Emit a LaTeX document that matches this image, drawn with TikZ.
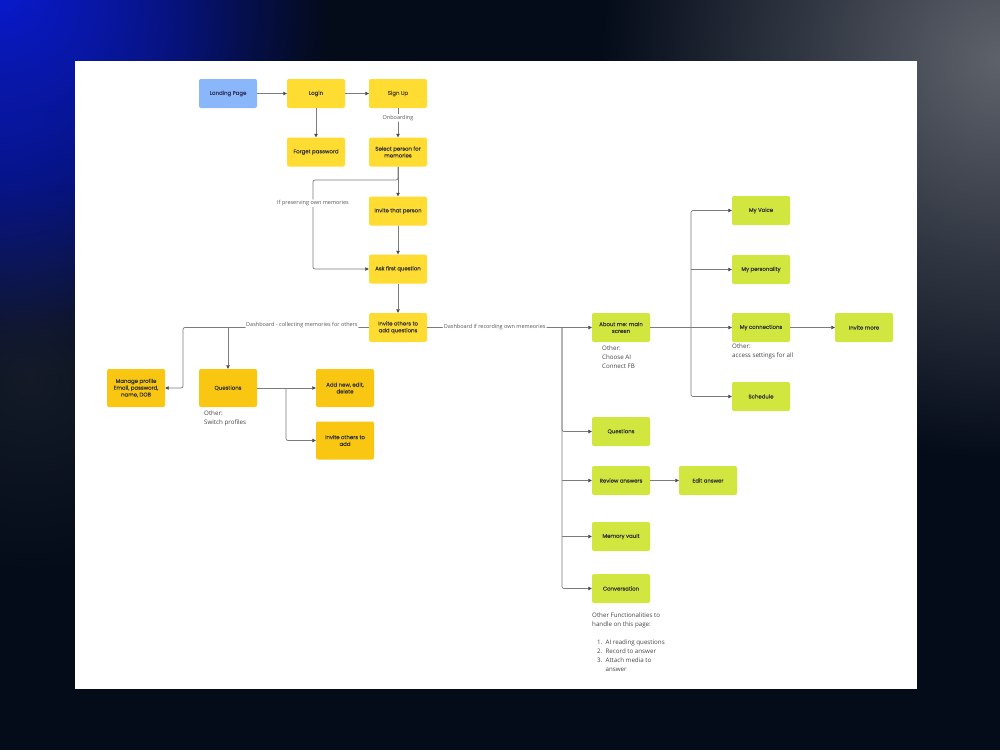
\documentclass[tikz,border=0pt]{standalone}
\usepackage{fontspec}
\setmainfont{Open Sans}
\newfontfamily\boxfam{Poppins}[FakeBold=0.12]
\usetikzlibrary{arrows.meta,fadings}
\definecolor{bgcol}{HTML}{040B19}
\definecolor{blueglow}{HTML}{0A1CE0}
\definecolor{greyglow}{HTML}{5E636B}
\definecolor{bluebox}{HTML}{8AB6FA}
\definecolor{yelcol}{HTML}{FFDC32}
\definecolor{orgcol}{HTML}{F9C712}
\definecolor{grncol}{HTML}{D1E63F}
\definecolor{txtcol}{HTML}{333333}
\definecolor{linecol}{HTML}{7C7C7C}
\definecolor{tipcol}{HTML}{4A4A4A}
\definecolor{notecol}{HTML}{454545}
\tikzfading[name=glowfade, inner color=transparent!0, outer color=transparent!100]
\begin{document}
\begin{tikzpicture}[x=1pt,y=-1pt,
  box/.style={rectangle, rounded corners=2pt, minimum width=58pt, minimum height=29pt,
    inner sep=1pt, align=center, text=txtcol, font=\boxfam\fontsize{5.4}{6.8}\selectfont},
  bbox/.style={box, fill=bluebox, text=black!70!blue!60!gray},
  yel/.style={box, fill=yelcol},
  org/.style={box, fill=orgcol, minimum height=38pt},
  grn/.style={box, fill=grncol},
  conn/.style={draw=linecol, line width=0.7pt, rounded corners=2pt,
    -{Triangle[length=3.5pt,width=3.5pt,color=tipcol]}},
  lab/.style={fill=white, inner sep=1pt, text=notecol!90, font=\fontsize{5.5}{6.5}\selectfont},
  note/.style={anchor=north west, align=left, inner sep=0pt, text=notecol, font=\fontsize{6.2}{9}\selectfont}
]
\useasboundingbox (0,0) rectangle (1000,750);
% background
\fill[bgcol] (0,0) rectangle (1000,750);
\fill[blueglow, path fading=glowfade] (0,0) circle (330);
\fill[blueglow!70!bgcol, path fading=glowfade, opacity=0.6] (0,120) circle (260);
\fill[greyglow, path fading=glowfade] (1000,60) circle (400);
\fill[greyglow!60!bgcol, path fading=glowfade, opacity=0.3] (30,380) circle (200);
% canvas
\fill[white] (75,61) rectangle (917,689);

% nodes
\node[bbox] (landing) at (228,93.5) {Landing Page};
\node[yel] (login) at (316,93.5) {Login};
\node[yel, text=txtcol!55!yelcol!60!black] (signup) at (398,93.5) {Sign Up};
\node[yel] (forget) at (316,152) {Forget password};
\node[yel] (select) at (398,152) {Select person for\\memories};
\node[yel] (invitep) at (398,211) {Invite that person};
\node[yel] (ask) at (398,269) {Ask first question};
\node[yel] (inviteo) at (398,327.5) {Invite others to\\add questions};

\node[org] (manage) at (136,388) {Manage profile\\Email, password,\\name, DOB};
\node[org] (quest) at (228,388) {Questions};
\node[org] (addnew) at (345,388) {Add new, edit,\\delete};
\node[org] (inviteadd) at (345,440.5) {Invite others to\\add};

\node[grn] (aboutme) at (621,327.5) {About me: main\\screen};
\node[grn] (gquest) at (621,431.5) {Questions};
\node[grn] (review) at (621,480.5) {Review answers};
\node[grn] (edit) at (708,480.5) {Edit answer};
\node[grn] (vault) at (621,536.5) {Memory vault};
\node[grn] (convo) at (621,588.5) {Conversation};
\node[grn] (myvoice) at (761,210.5) {My Voice};
\node[grn] (mypers) at (761,269.5) {My personality};
\node[grn] (myconn) at (761,327.5) {My connections};
\node[grn] (invitemore) at (864,327.5) {Invite more};
\node[grn] (schedule) at (761,396.5) {Schedule};

% notes
\node[note] (n1) at (204,410.5) {Other:\\Switch profiles};
\node[note] (n2) at (602,346) {Other:\\Choose AI\\Connect FB};
\node[note] (n3) at (732,343.5) {Other:\\access settings for all};
\node[note] (n4) at (592,613) {Other Functionalities to\\handle on this page:};
\node[note] (n5) at (597,639.5) {1.\ \ AI reading questions\\2.\ \ Record to answer\\3.\ \ Attach media to\\\hphantom{3.\ \ }answer};

% coordinates
\coordinate (c1) at (313,180);
\coordinate (c2) at (183,327.5);
\coordinate (c3) at (228,327.5);
\coordinate (c4) at (286,388);
\coordinate (c5) at (691,327.5);
\coordinate (c6) at (562,327.5);

% connectors
\draw[conn] (landing) -- (login);
\draw[conn] (login) -- (signup);
\draw[conn] (login) -- (forget);
\draw[conn] (signup) -- node[lab, pos=0.33]{Onboarding} (select);
\draw[conn] (select) -- (invitep);
\draw[conn] (select.south) |- (c1) |- node[lab, pos=0.13]{If preserving own memories} (ask.west);
\draw[conn] (invitep) -- (ask);
\draw[conn] (ask) -- (inviteo);
\draw[conn] (inviteo.west) -- node[lab, pos=0.36, yshift=2.5pt]{Dashboard - collecting memories for others} (c2) |- (manage.east);
\draw[conn] (c3) -- (quest.north);
\draw[conn] (quest) -- (addnew);
\draw[conn] (c4) |- (inviteadd.west);
\draw[conn] (inviteo.east) -- node[lab, pos=0.41]{Dashboard if recording own memeories} (aboutme.west);
\draw[conn] (aboutme) -- (myconn);
\draw[conn] (c5) |- (myvoice.west);
\draw[conn] (c5 |- mypers.west) -- (mypers.west);
\draw[conn] (c5) |- (schedule.west);
\draw[conn] (myconn) -- (invitemore);
\draw[conn] (c6) |- (gquest.west);
\draw[conn] (c6 |- review.west) -- (review.west);
\draw[conn] (c6 |- vault.west) -- (vault.west);
\draw[conn] (c6) |- (convo.west);
\draw[conn] (review) -- (edit);
\end{tikzpicture}
\end{document}
